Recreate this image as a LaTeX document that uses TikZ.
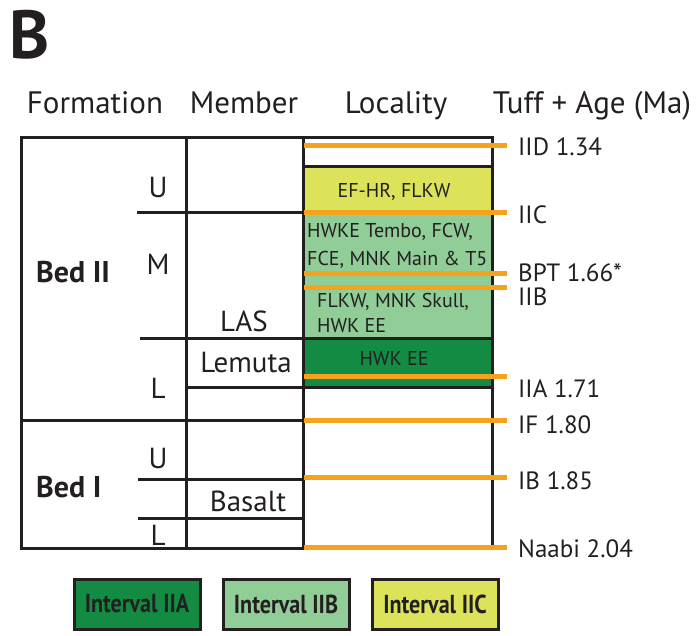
\documentclass[tikz,border=0pt]{standalone}
\usepackage{fontspec}
\setmainfont{PT Sans}
\usetikzlibrary{positioning}

\definecolor{ivA}{HTML}{138B43}
\definecolor{ivB}{HTML}{91CD97}
\definecolor{ivC}{HTML}{DCE35B}
\definecolor{tuff}{HTML}{F5A21F}
\definecolor{ink}{HTML}{231F20}
\newcommand{\legtext}[1]{\scalebox{0.85}[1]{\bfseries #1}}

\begin{document}
\begin{tikzpicture}[x=1pt, y=-1pt,
    rule/.style={line width=3pt, ink},
    tuffline/.style={line width=5pt, tuff},
    head/.style={font=\fontsize{31}{31}\selectfont, text=ink, anchor=base, inner sep=0pt},
    unit/.style={font=\fontsize{29}{29}\selectfont, text=ink, anchor=base, inner sep=0pt},
    bed/.style={font=\fontsize{30}{30}\selectfont\bfseries, text=ink, anchor=base west, inner sep=0pt},
    loc/.style={font=\fontsize{20}{20}\selectfont, text=ink, anchor=base, inner sep=0pt},
    age/.style={font=\fontsize{25}{25}\selectfont, text=ink, anchor=base west, inner sep=0pt},
    legendbox/.style={draw=ink, line width=3pt, minimum width=126pt, minimum height=50pt,
        inner sep=0pt, font=\fontsize{26}{26}\selectfont, text=ink}]
    \useasboundingbox (0,0) rectangle (699,635);

    % panel letter and column heads
    \node[font=\fontsize{68}{68}\selectfont\bfseries, text=ink, anchor=base west, inner sep=0pt] (panel) at (9,58) {B};
    \node[head] (hForm) at (95,113) {Formation};
    \node[head] (hMem) at (244,113) {Member};
    \node[head] (hLoc) at (396,113) {Locality};
    \node[head] (hTuff) at (592,113) {Tuff + Age (Ma)};

    % locality intervals
    \fill[ivC] (303,166) rectangle (492,212);
    \fill[ivB] (303,212) rectangle (492,338);
    \fill[ivA] (303,338) rectangle (492,387);

    % table frame
    \draw[rule] (21,137) rectangle (492,548);
    \draw[rule] (186,137) -- (186,548);
    \draw[rule] (303,137) -- (303,548);
    \foreach \xa/\y in {137/212, 140/338, 186/387, 21/420, 138/479, 138/518}
        \draw[rule] (\xa,\y) -- (303,\y);
    \foreach \y in {166, 338, 387}
        \draw[rule] (303,\y) -- (492,\y);

    % tuff horizons
    \foreach \y in {145, 212, 273, 287, 376, 420, 477, 547}
        \draw[tuffline] (304,\y) -- (507,\y);
    \foreach \t/\b [count=\i] in {IID 1.34/155, IIC/223, BPT 1.66*/281, IIB/305,
            IIA 1.71/397, IF 1.80/433, IB 1.85/489, Naabi 2.04/557}
        \node[age] (age\i) at (518,\b) {\t};

    % formations and members
    \node[bed] (bedII) at (36,282) {Bed II};
    \node[bed] (bedI) at (36,497) {Bed I};
    \node[unit] (uII) at (158,197) {U};
    \node[unit] (mII) at (158,274) {M};
    \node[unit] (lII) at (158,398) {L};
    \node[unit] (uI) at (158,468) {U};
    \node[unit] (lI) at (158,545) {L};
    \node[unit] (las) at (244,331) {LAS};
    \node[unit] (lemuta) at (246,372) {Lemuta};
    \node[unit] (basalt) at (248,511) {Basalt};

    % localities
    \node[loc] (locC) at (394,197) {EF-HR, FLKW};
    \node[loc, anchor=base west] (locB1) at (307,237) {HWKE Tembo, FCW,};
    \node[loc, anchor=base west] (locB2) at (307,265) {FCE, MNK Main \& T5};
    \node[loc, anchor=base west] (locB3) at (317,307) {FLKW, MNK Skull,};
    \node[loc, anchor=base west] (locB4) at (317,332) {HWK EE};
    \node[loc] (locA) at (394,365) {HWK EE};

    % legend
    \node[legendbox, fill=ivA] (legA) at (137,604) {\legtext{Interval IIA}};
    \node[legendbox, fill=ivB, right=20pt of legA] (legB) {\legtext{Interval IIB}};
    \node[legendbox, fill=ivC, right=20pt of legB] (legC) {\legtext{Interval IIC}};
\end{tikzpicture}
\end{document}
